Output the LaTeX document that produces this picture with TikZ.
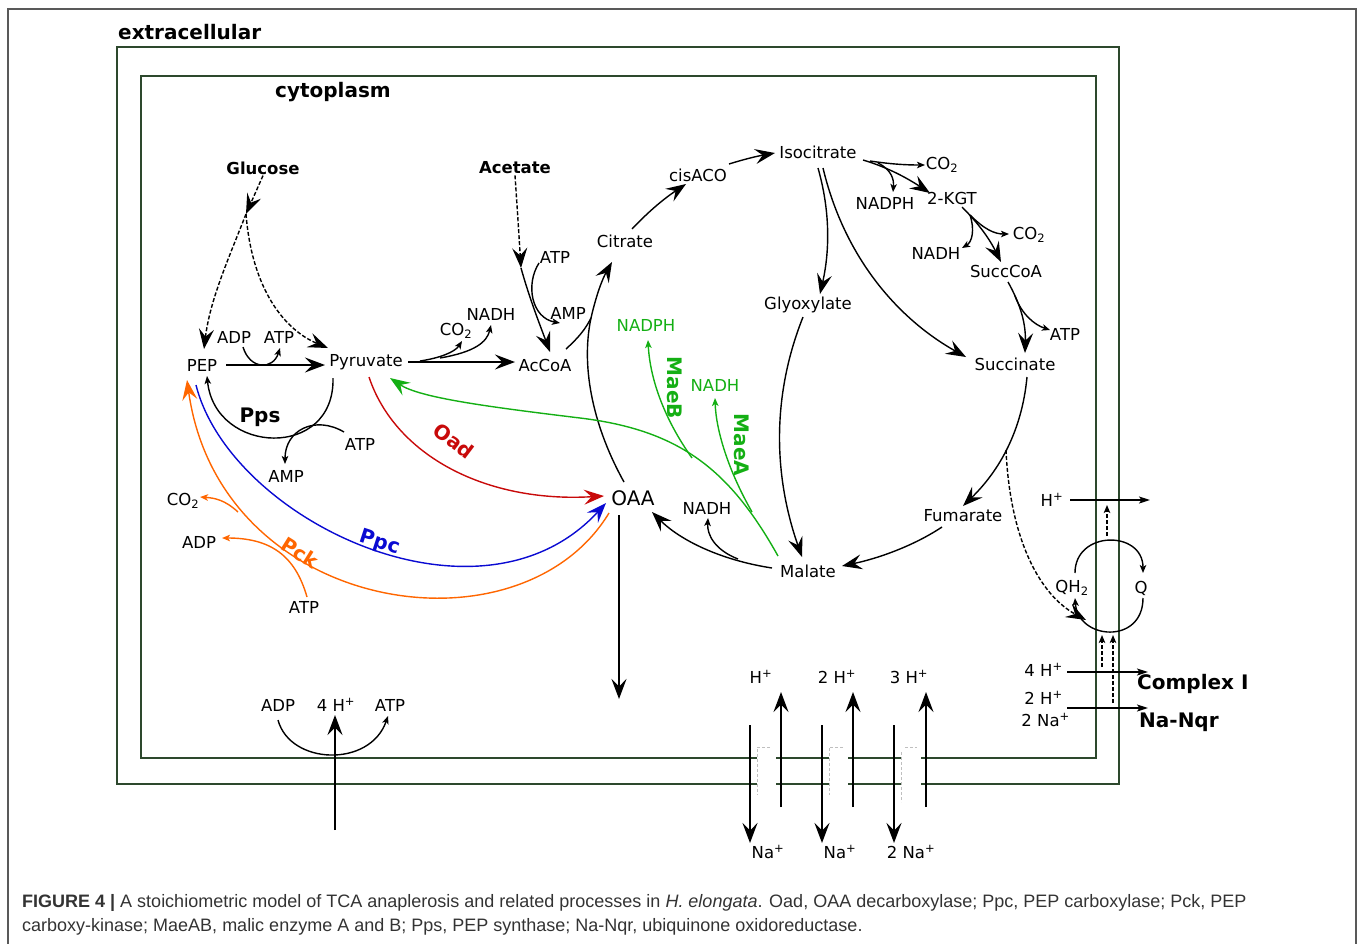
\documentclass[tikz,border=0pt]{standalone}
\usepackage{fontspec}
\setmainfont{DejaVu Sans}
\newfontfamily\capfont{Liberation Sans}
\usetikzlibrary{arrows.meta}
\definecolor{memc}{RGB}{45,72,45}
\definecolor{oadc}{RGB}{200,10,10}
\definecolor{ppcc}{RGB}{10,10,210}
\definecolor{pckc}{RGB}{255,102,0}
\definecolor{maec}{RGB}{20,175,20}
\definecolor{capc}{RGB}{51,51,51}
\tikzset{
  lbl/.style={font=\fontsize{16.5}{19}\selectfont, inner sep=1pt},
  blbl/.style={font=\fontsize{16.5}{19}\selectfont\bfseries, inner sep=1pt},
  big/.style={font=\fontsize{20}{23}\selectfont\bfseries, inner sep=1pt},
  conn/.style={line width=1.4pt},
  bigarr/.style={conn, -{Stealth[length=20pt,width=15pt,inset=7.5pt]}},
  smarr/.style={conn, -{Stealth[length=8pt,width=6.5pt,inset=2pt]}},
  medarr/.style={conn, -{Stealth[length=11pt,width=7pt,inset=2.5pt]}},
  dsh/.style={dash pattern=on 4pt off 2pt},
  mem/.style={line width=2pt, draw=memc},
  gapl/.style={line width=0.8pt, draw=black!25, dash pattern=on 3pt off 2pt},
}
\begin{document}
\begin{tikzpicture}[x=1pt,y=-1pt]
\useasboundingbox (0,0) rectangle (1358,943);
% outer frame
\draw[line width=1.5pt, black!65] (8,945) -- (8,9) -- (1356,9) -- (1356,945);
% membranes
\draw[mem] (757,784) -- (117,784) -- (117,47) -- (1119,47) -- (1119,784) -- (921,784);
\draw[mem] (776,784) -- (829,784);
\draw[mem] (848,784) -- (902,784);
\draw[mem] (757,758) -- (141,758) -- (141,76) -- (1096,76) -- (1096,758) -- (921,758);
\draw[mem] (776,758) -- (829,758);
\draw[mem] (848,758) -- (902,758);
\draw[gapl] (770,747) -- (757,747) -- (757,795);
\draw[gapl] (843,747) -- (829,747) -- (829,795);
\draw[gapl] (905,747) -- (917,747);
\draw[gapl] (901,752) -- (901,802);

\node[font=\fontsize{20}{23}\selectfont\bfseries, anchor=west, inner sep=0pt] (extra) at (118,32) {extracellular};
\node[font=\fontsize{20}{23}\selectfont\bfseries] (cyto) at (333,92) {cytoplasm};

% metabolites
\node[blbl] (glc) at (263,168) {Glucose};
\node[blbl] (ace) at (515,168) {Acetate};
\node[lbl] (pep) at (202,365) {PEP};
\node[lbl] (adp1) at (234,337) {ADP};
\node[lbl] (atp1) at (279,337) {ATP};
\node[lbl] (pyr) at (366,362) {Pyruvate};
\node[lbl] (co2a) at (456,331) {CO\textsubscript{2}};
\node[lbl] (nadh1) at (491,314) {NADH};
\node[lbl] (accoa) at (545,365) {AcCoA};
\node[lbl] (atp2) at (555,257) {ATP};
\node[lbl] (amp2) at (568,313) {AMP};
\node[lbl] (cit) at (625,241) {Citrate};
\node[lbl] (cis) at (698,175) {cisACO};
\node[lbl] (iso) at (818,152) {Isocitrate};
\node[lbl] (co2b) at (942,165) {CO\textsubscript{2}};
\node[lbl] (nadph1) at (885,203) {NADPH};
\node[lbl] (kgt) at (952,198) {2-KGT};
\node[lbl] (co2c) at (1029,235) {CO\textsubscript{2}};
\node[lbl] (nadh2) at (936,253) {NADH};
\node[lbl] (scoa) at (1006,271) {SuccCoA};
\node[lbl] (atp3) at (1065,334) {ATP};
\node[lbl] (succ) at (1015,364) {Succinate};
\node[lbl] (glx) at (808,305) {Glyoxylate};
\node[lbl, text=maec] (nadphg) at (646,325) {NADPH};
\node[lbl, text=maec] (nadhg) at (715,385) {NADH};
\node[big, text=maec, rotate=-90] (maeb) at (675,388) {MaeB};
\node[big, text=maec, rotate=-90] (maea) at (742,445) {MaeA};
\node[font=\fontsize{20}{23}\selectfont, inner sep=1pt] (oaa) at (633,498) {OAA};
\node[lbl] (nadh3) at (707,508) {NADH};
\node[lbl] (mal) at (808,571) {Malate};
\node[lbl] (fum) at (963,516) {Fumarate};
\node[big] (pps) at (260,417) {Pps};
\node[lbl] (atp4) at (360,444) {ATP};
\node[lbl] (amp4) at (286,476) {AMP};
\node[big, text=oadc, rotate=-37] (oad) at (454,441) {Oad};
\node[big, text=ppcc, rotate=-18] (ppc) at (380,543) {Ppc};
\node[big, text=pckc, rotate=-32] (pck) at (300,553) {Pck};
\node[lbl] (co2d) at (183,501) {CO\textsubscript{2}};
\node[lbl] (adp5) at (199,542) {ADP};
\node[lbl] (atp5) at (304,607) {ATP};
% right complex
\node[lbl] (hp1) at (1052,500) {H\textsuperscript{+}};
\node[lbl] (qh2) at (1072,588) {QH\textsubscript{2}};
\node[lbl] (q) at (1141,588) {Q};
\node[lbl, anchor=east] (h4) at (1064,670) {4 H\textsuperscript{+}};
\node[lbl, anchor=east] (h2) at (1064,698) {2 H\textsuperscript{+}};
\node[lbl, anchor=east] (na2) at (1071,720) {2 Na\textsuperscript{+}};
\node[big, anchor=west] (cI) at (1136,684) {Complex I};
\node[big, anchor=west] (nqr) at (1138,722) {Na-Nqr};
% bottom antiporters
\node[lbl] (hb1) at (761,677) {H\textsuperscript{+}};
\node[lbl] (hb2) at (837,677) {2 H\textsuperscript{+}};
\node[lbl] (hb3) at (909,677) {3 H\textsuperscript{+}};
\node[lbl] (nb1) at (768,852) {Na\textsuperscript{+}};
\node[lbl] (nb2) at (840,852) {Na\textsuperscript{+}};
\node[lbl] (nb3) at (911,852) {2 Na\textsuperscript{+}};
% ATP synthase
\node[lbl] (adp6) at (278,705) {ADP};
\node[lbl] (h6) at (336,705) {4 H\textsuperscript{+}};
\node[lbl] (atp6) at (390,705) {ATP};

% caption
\node[font=\capfont\fontsize{18}{21}\selectfont, text=capc, anchor=base west, inner sep=0pt] (cap1) at (22,907)
  {\textbf{FIGURE 4 |} A stoichiometric model of TCA anaplerosis and related processes in \textit{H. elongata}. Oad, OAA decarboxylase; Ppc, PEP carboxylase; Pck, PEP};
\node[font=\capfont\fontsize{18}{21}\selectfont, text=capc, anchor=base west, inner sep=0pt] (cap2) at (22,931)
  {carboxy-kinase; MaeAB, malic enzyme A and B; Pps, PEP synthase; Na-Nqr, ubiquinone oxidoreductase.};

% ---------- connectors ----------
% glucose
\coordinate (gb) at (246,214);
\coordinate (pepN) at (204,349);
\coordinate (pyrNW) at (328,348);
\draw[bigarr, dsh] (glc.south) -- (gb);
\draw[bigarr, dsh] (gb) .. controls (228,260) and (210,300) .. (pepN);
\draw[bigarr, dsh] (gb) .. controls (252,290) and (285,330) .. (pyrNW);
% PEP -> Pyruvate
\coordinate (pepE) at (226,365);
\coordinate (pyrW) at (325,365);
\draw[bigarr] (pepE) -- (pyrW);
\draw[smarr] (243,347) .. controls (250,370) and (273,370) .. (280,348);
% Pyruvate -> AcCoA
\coordinate (pyrE) at (408,362);
\coordinate (accW) at (515,362);
\draw[bigarr] (pyrE) -- (accW);
\draw[smarr] (420,361) .. controls (440,358) and (455,352) .. (462,341);
\draw[smarr] (440,358) .. controls (475,352) and (487,342) .. (491,325);
% Acetate
\coordinate (ab) at (521,268);
\draw[bigarr, dsh] (ace.south) .. controls (518,220) .. (ab);
\draw[bigarr] (ab) .. controls (530,300) and (540,325) .. (550,352);
\draw[smarr] (539,263) .. controls (525,285) and (532,318) .. (560,323);
% OAA/AcCoA -> Citrate
\coordinate (cj) at (591,318);
\draw[bigarr] (624,482) .. controls (595,430) and (580,370) .. (cj) .. controls (597,292) and (603,278) .. (612,262);
\draw[conn] (566,349) .. controls (578,338) and (585,330) .. (cj);
% TCA
\draw[bigarr] (632,229) .. controls (650,210) and (665,198) .. (686,184);
\draw[bigarr] (729,164) .. controls (745,159) and (758,156) .. (775,153);
\draw[bigarr] (863,160) .. controls (890,168) and (910,180) .. (930,193);
\draw[smarr] (870,161) .. controls (890,164) and (905,165) .. (925,165);
\draw[smarr] (878,163) .. controls (892,170) and (894,180) .. (893,192);
\draw[bigarr] (962,207) .. controls (980,225) and (990,240) .. (1001,262);
\draw[smarr] (970,215) .. controls (985,230) and (995,234) .. (1009,234);
\draw[smarr] (970,215) .. controls (975,230) and (972,242) .. (962,248);
\draw[bigarr] (1008,282) .. controls (1018,300) and (1026,320) .. (1025,353);
\draw[smarr] (1015,296) .. controls (1022,315) and (1035,325) .. (1050,330);
\draw[bigarr] (818,168) .. controls (830,210) and (830,250) .. (820,294);
\draw[bigarr] (823,168) .. controls (845,260) and (900,320) .. (966,357);
\draw[bigarr] (803,317) .. controls (770,400) and (775,480) .. (802,557);
\draw[bigarr] (1027,377) .. controls (1022,430) and (1000,470) .. (963,506);
\draw[bigarr, dsh] (1006,450) .. controls (1010,540) and (1040,595) .. (1086,620);
\draw[bigarr] (942,527) .. controls (915,545) and (880,558) .. (842,566);
\draw[bigarr] (772,568) .. controls (720,560) and (680,540) .. (652,512);
\draw[smarr] (738,559) .. controls (715,550) and (707,535) .. (708,518);
% malic enzymes
\draw[bigarr, maec] (778,556) .. controls (730,470) and (680,430) .. (580,418) .. controls (490,407) and (420,398) .. (390,378);
\draw[smarr, maec] (692,458) .. controls (665,420) and (650,380) .. (648,340);
\draw[smarr, maec] (752,512) .. controls (728,470) and (716,430) .. (715,398);
% anaplerotic
\draw[bigarr, oadc] (369,377) .. controls (395,455) and (485,503) .. (604,496);
\draw[bigarr, ppcc] (196,385) .. controls (230,520) and (480,640) .. (606,503);
\draw[bigarr, pckc] (609,513) .. controls (520,660) and (220,615) .. (187,380);
\draw[smarr, pckc] (238,512) .. controls (225,500) and (215,498) .. (200,497);
\draw[smarr, pckc] (307,597) .. controls (295,555) and (270,538) .. (222,538);
% Pps
\draw[smarr] (333,378) .. controls (335,460) and (215,455) .. (207,376);
\draw[smarr] (344,432) .. controls (315,415) and (285,430) .. (285,464);
% OAA out
\draw[bigarr] (619,515) -- (619,699);
% ATP synthase
\draw[bigarr] (335,830) -- (335,715);
\draw[smarr] (278,720) .. controls (290,765) and (370,768) .. (388,716);
% bottom antiporters
\draw[bigarr] (750,725) -- (750,843);
\draw[bigarr] (781,807) -- (781,692);
\draw[bigarr] (822,725) -- (822,843);
\draw[bigarr] (853,807) -- (853,692);
\draw[bigarr] (894,725) -- (894,843);
\draw[bigarr] (926,807) -- (926,692);
% right complex
\draw[medarr] (1070,500) -- (1150,500);
\draw[smarr, dsh] (1107,536) -- (1107,505);
\draw[smarr] (1075,573) .. controls (1075,530) and (1143,530) .. (1143,573);
\draw[smarr] (1143,598) .. controls (1143,645) and (1078,640) .. (1075,598);
\draw[smarr, dsh] (1102,667) -- (1102,635);
\draw[smarr, dsh] (1113,703) -- (1113,635);
\draw[medarr] (1067,672) -- (1148,672);
\draw[medarr] (1067,708) -- (1148,708);
\end{tikzpicture}
\end{document}
